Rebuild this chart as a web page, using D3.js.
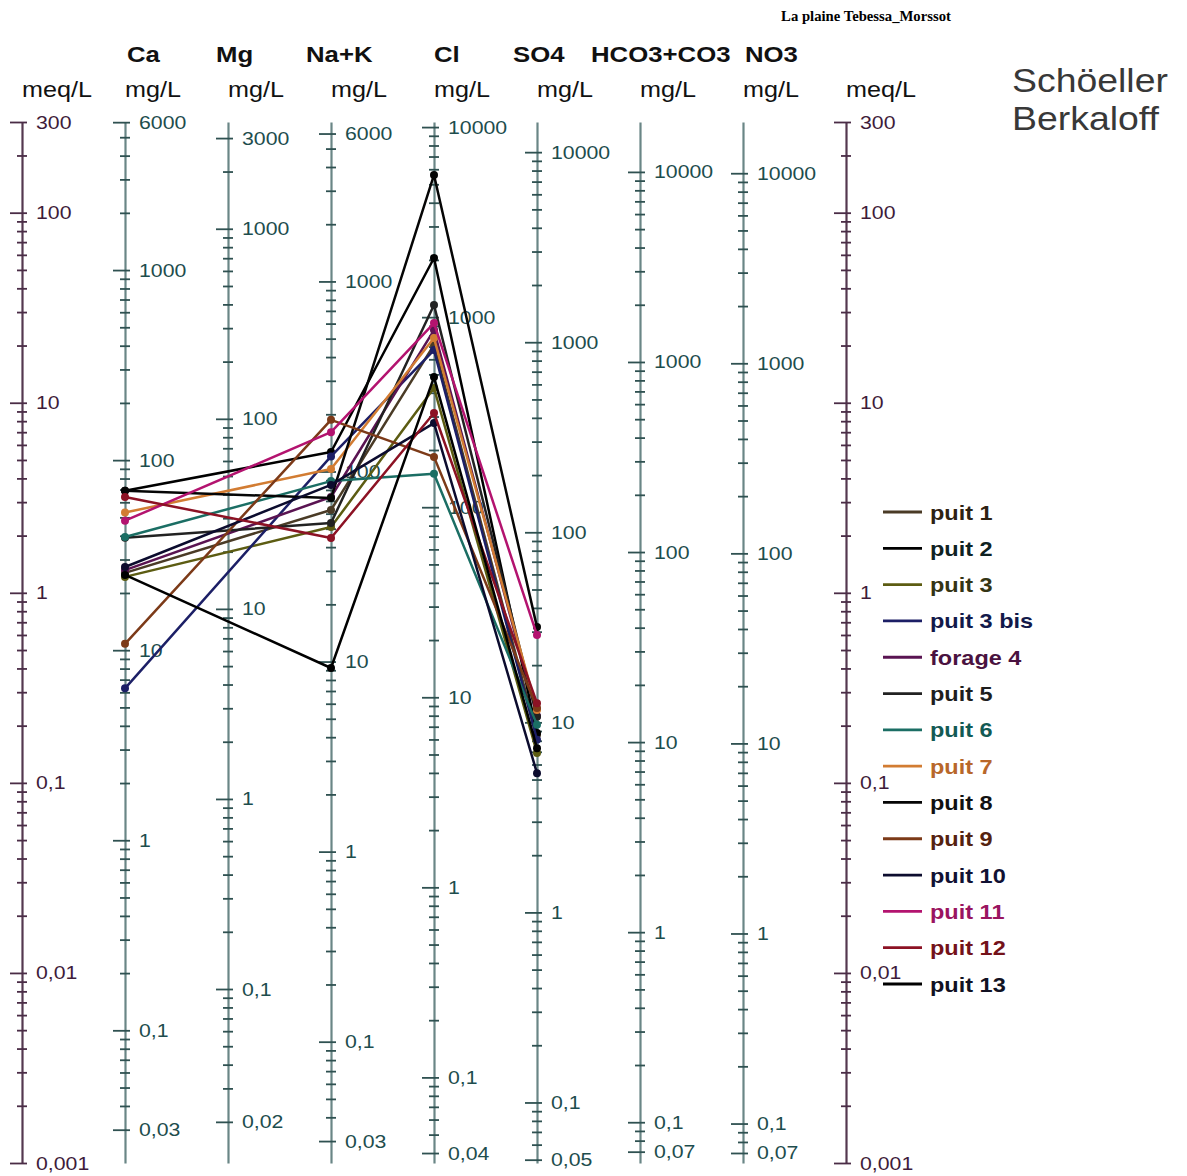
<!DOCTYPE html>
<html>
<head>
<meta charset="utf-8">
<script src="https://cdn.jsdelivr.net/npm/d3@7"></script>
<style>
  body { margin: 0; background: #fff; }
  svg { display: block; font-family: "Liberation Sans", Arial, sans-serif; }
</style>
</head>
<body>
<svg id="chart" width="1187" height="1176"></svg>
<script>
// Schoeller–Berkaloff diagram, La plaine Tebessa_Morssot

// Ions along the diagram and their equivalent weights (mg per meq)
const ions = ["Ca", "Mg", "Na+K", "Cl", "SO4", "HCO3+CO3", "NO3"];
const eqWeights = [20.04, 12.15, 23.0, 35.45, 48.03, 61.02, 62.0];

// Labelled values on each axis
const meqLabels  = [300, 100, 10, 1, 0.1, 0.01, 0.001];
const caLabels   = [6000, 1000, 100, 10, 1, 0.1, 0.03];
const mgLabels   = [3000, 1000, 100, 10, 1, 0.1, 0.02];
const naLabels   = [6000, 1000, 100, 10, 1, 0.1, 0.03];
const clLabels   = [10000, 1000, 100, 10, 1, 0.1, 0.04];
const so4Labels  = [10000, 1000, 100, 10, 1, 0.1, 0.05];
const hco3Labels = [10000, 1000, 100, 10, 1, 0.1, 0.07];
const no3Labels  = [10000, 1000, 100, 10, 1, 0.1, 0.07];
const ionLabels = [caLabels, mgLabels, naLabels, clLabels, so4Labels, hco3Labels, no3Labels];

// Samples (mg/L), in the order of `ions`; null = not analysed
const sampleNames = ["puit 1", "puit 2", "puit 3", "puit 3 bis", "forage 4", "puit 5", "puit 6",
                     "puit 7", "puit 8", "puit 9", "puit 10", "puit 11", "puit 12", "puit 13"];
const puit1   = [25.5, null,  62.7,  714,  8.6, null, null];
const puit2   = [69,   null, 126.6, 2047,  8.8, null, null];
const puit3   = [24.3, null,  51,    424,  6.9, null, null];
const puit3b  = [6.3,  null, 120,    671,  8.1, null, null];
const forage4 = [26.4, null,  73.4,  855, 10.8, null, null];
const puit5   = [39,   null,  53.6, 1158, 10.7, null, null];
const puit6   = [39.4, null,  89,    150,  9.7, null, null];
const puit7   = [53,   null, 103,    776, 11.6, null, null];
const puit8   = [69,   null,  72.5, 5600, 31.7, null, null];
const puit9   = [10.8, null, 187,    184, 11.9, null, null];
const puit10  = [27.4, null,  85,    277,  5.4, null, null];
const puit11  = [48,   null, 161,    931, 28.8, null, null];
const puit12  = [64,   null,  44.7,  313, 12.6, null, null];
const puit13  = [24.9, null,   9.25, 484,  7.3, null, null];
const sampleValues = [puit1, puit2, puit3, puit3b, forage4, puit5, puit6,
                      puit7, puit8, puit9, puit10, puit11, puit12, puit13];

const lineColors = ["#4a3b26", "#000000", "#5c5c12", "#1c1f66", "#5a1452", "#222222", "#1b6e64",
                    "#d27c32", "#050505", "#7c3a18", "#0c0c2e", "#b3136f", "#8c1224", "#000000"];
const textColors = ["#2e2212", "#0f2222", "#343414", "#12194a", "#4a1240", "#1e1e1e", "#135a54",
                    "#b8672a", "#111111", "#55220f", "#111133", "#9a1460", "#74121a", "#111122"];

// ---------- layout ----------
const yTop = 122, yBottom = 1163;
const SX = 1.12; // horizontal stretch of all lettering

const svg = d3.select("#chart");
const fmt = d3.formatLocale({ decimal: ",", thousands: "", grouping: [3], currency: ["", ""] }).format("~g");

const axisKeys = ["meqL", ...ions, "meqR"];
const xPos = d3.scalePoint().domain(axisKeys).range([22, 846]);

const meqScale = d3.scaleLog().domain([0.001, 300]).range([yBottom, yTop]);
const ionScales = eqWeights.map(w => d3.scaleLog().domain([0.001 * w, 300 * w]).range([yBottom, yTop]));

function addText(g, x, y, str, opts) {
  const t = g.append("text")
    .attr("transform", `translate(${x},${y}) scale(${opts.sx || SX},1)`)
    .attr("font-size", opts.size)
    .attr("fill", opts.fill || "#000")
    .attr("font-weight", opts.weight || "normal")
    .text(str);
  if (opts.family) t.attr("font-family", opts.family);
  if (opts.anchor) t.attr("text-anchor", opts.anchor);
  return t;
}

// log ticks d × 10^k inside a scale's domain
function logTicks(scale) {
  const [lo, hi] = scale.domain();
  const out = [];
  for (let k = Math.floor(Math.log10(lo)) - 1; k <= Math.ceil(Math.log10(hi)); k++) {
    for (let d = 1; d <= 9; d++) {
      const v = +(d * Math.pow(10, k)).toPrecision(6);
      if (v >= lo * 0.9999 && v <= hi * 1.0001) out.push(v);
    }
  }
  return out;
}
const isLabel = (labels, v) => labels.some(l => Math.abs(Math.log10(l) - Math.log10(v)) < 1e-6);

function drawAxis(key, scale, labels, lineColor, tickColor, labelColor) {
  const ticks = logTicks(scale);
  labels.forEach(l => { if (!ticks.some(t => Math.abs(Math.log10(t) - Math.log10(l)) < 1e-6)) ticks.push(l); });
  const g = svg.append("g").attr("transform", `translate(${xPos(key)},0)`);
  g.call(d3.axisRight(scale).tickValues(ticks).tickSize(5).tickSizeOuter(0).tickFormat(() => ""));
  g.select(".domain").attr("stroke", lineColor).attr("stroke-width", 2.2);
  g.selectAll(".tick line")
    .attr("stroke", tickColor).attr("stroke-width", 1.8)
    .attr("x1", d => isLabel(labels, d) ? -12 : -5)
    .attr("x2", 5);
  g.selectAll(".tick text").remove();
  labels.forEach(l => {
    addText(g, 14, scale(l) + 6.5, fmt(l), { size: 19, fill: labelColor });
  });
}

// meq/L axes on both sides
drawAxis("meqL", meqScale, meqLabels, "#54384f", "#4a2c46", "#3e1c3a");
drawAxis("meqR", meqScale, meqLabels, "#54384f", "#4a2c46", "#3e1c3a");
// mg/L axes for each ion
ions.forEach((ion, i) => drawAxis(ion, ionScales[i], ionLabels[i], "#6a8686", "#2f5151", "#1d4d4d"));

// ---------- headers ----------
const header = svg.append("g");
const headerX = [127, 216, 306, 434, 513, 591, 745];
ions.forEach((ion, i) => addText(header, headerX[i], 62, ion, { size: 23, weight: "bold", fill: "#111" }));
axisKeys.forEach(k => addText(header, xPos(k), 97, k.startsWith("meq") ? "meq/L" : "mg/L", { size: 22.5, fill: "#111" }));

addText(header, 866, 21, "La plaine Tebessa_Morssot",
  { size: 14, weight: "bold", family: "'Liberation Serif', 'Times New Roman', serif", anchor: "middle", sx: 1.05 });
addText(header, 1012, 92, "Schöeller", { size: 34, fill: "#383838", sx: 1.1 });
addText(header, 1012, 130, "Berkaloff", { size: 34, fill: "#383838", sx: 1.1 });

// ---------- sample profiles ----------
const plot = svg.append("g");
const line = d3.line().x(d => d.x).y(d => d.y);

sampleValues.forEach((vals, s) => {
  const pts = vals.map((v, i) => v == null ? null : { x: xPos(ions[i]), y: ionScales[i](v) })
                  .filter(p => p !== null);
  plot.append("path")
    .attr("d", line(pts))
    .attr("fill", "none")
    .attr("stroke", lineColors[s])
    .attr("stroke-width", 2.5)
    .attr("stroke-linejoin", "round");
  plot.selectAll(null).data(pts).enter().append("circle")
    .attr("cx", d => d.x).attr("cy", d => d.y).attr("r", 4)
    .attr("fill", lineColors[s]);
});

// ---------- legend ----------
const legend = svg.append("g");
const legendY = d3.scaleLinear().domain([0, sampleNames.length - 1]).range([512, 984]);
sampleNames.forEach((name, s) => {
  const y = legendY(s);
  legend.append("line")
    .attr("x1", 883).attr("x2", 922).attr("y1", y).attr("y2", y)
    .attr("stroke", lineColors[s]).attr("stroke-width", 2.8);
  addText(legend, 930, y + 7.5, name, { size: 21, weight: "bold", fill: textColors[s] });
});
</script>
</body>
</html>
